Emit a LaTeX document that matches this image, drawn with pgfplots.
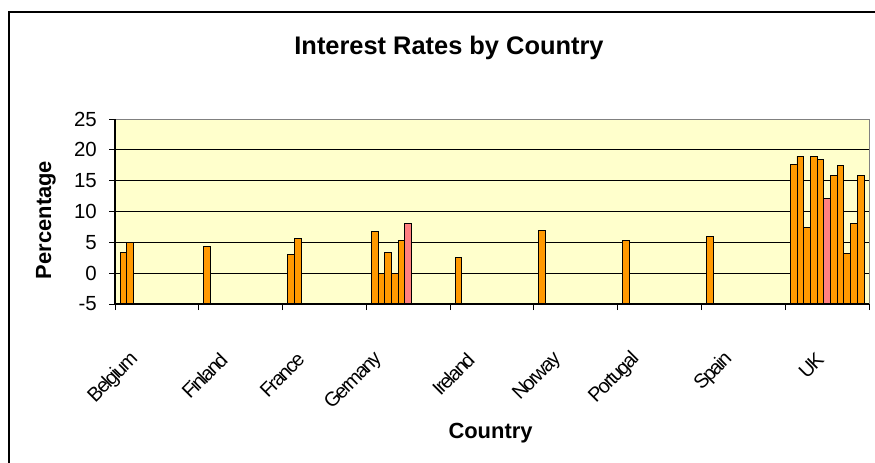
\documentclass[border=0pt]{standalone}
\usepackage{pgfplots}
\pgfplotsset{compat=1.18}
\usepackage{fontspec}
\setmainfont{Liberation Sans}
\newfontfamily\tightfont[LetterSpace=-9]{Liberation Sans}

\definecolor{barorange}{HTML}{FF9900}
\definecolor{barpink}{HTML}{FF8080}
\definecolor{plotbg}{HTML}{FFFFCC}
\definecolor{frameg}{HTML}{808080}

\begin{document}
\begin{tikzpicture}[x=1bp,y=1bp]
\useasboundingbox (0,0) rectangle (875,-463);
% chart area frame
\draw[line width=1.6bp] (9,-480) -- (9,-12) -- (890,-12);

\begin{axis}[
  at={(115bp,-304bp)}, anchor=south west,
  scale only axis, width=754bp, height=185bp,
  xmin=-0.5, xmax=8.5,
  ymin=-5, ymax=25,
  % bars rise from the bottom of the value axis (-5)
  y coord trafo/.code={\pgfmathparse{#1+5}},
  y coord inv trafo/.code={\pgfmathparse{#1-5}},
  ytick={-5,0,5,10,15,20,25},
  yticklabels={-5,0,5,10,15,20,25},
  xtick={-0.20,0.86,1.78,2.71,3.81,4.85,5.78,6.89,7.98},
  xticklabels={Belgium,Finland,France,Germany,Ireland,Norway,Portugal,Spain,UK},
  minor xtick={-0.5,0.5,1.5,2.5,3.5,4.5,5.5,6.5,7.5,8.5},
  xtick pos=left, ytick pos=left,
  tick align=outside,
  major tick length=6bp, minor tick length=6bp,
  major x tick style={draw=none},
  every tick/.style={black, line width=1bp},
  minor x tick style={black, line width=1bp},
  ymajorgrids,
  major grid style={black, line width=0.9bp},
  axis line style={draw=none},
  axis background/.style={fill=plotbg},
  yticklabel style={font=\fontsize{20.5}{22}\selectfont, inner sep=0pt, anchor=east, xshift=-12bp},
  xticklabel style={font=\tightfont\fontsize{20}{22}\selectfont, inner sep=0pt, xshift=-5bp, yshift=-46bp, rotate=45, anchor=east},
  ybar=0pt, bar width=0.08,
  extra description/.code={
    \draw[frameg, line width=1bp] (rel axis cs:0,1) -- (rel axis cs:1,1) -- (rel axis cs:1,0);
    \draw[black, line width=1.2bp] (rel axis cs:0,1) -- (rel axis cs:0,0) -- (rel axis cs:1,0);
  },
]
% series 1
\addplot[fill=barorange, draw=black, line width=0.9bp] coordinates
  {(0,3.4) (1,4.3) (2,3.1) (3,6.7) (4,2.5) (5,7.0) (6,5.3) (7,6.0) (8,17.7)};
% series 2
\addplot[fill=barorange, draw=black, line width=0.9bp] coordinates
  {(0,5.0) (2,5.6) (3,0) (8,19.0)};
% series 3
\addplot[fill=barorange, draw=black, line width=0.9bp] coordinates
  {(3,3.4) (8,7.4)};
% series 4
\addplot[fill=barorange, draw=black, line width=0.9bp] coordinates
  {(3,0) (8,19.0)};
% series 5
\addplot[fill=barorange, draw=black, line width=0.9bp] coordinates
  {(3,5.3) (8,18.4)};
% series 6
\addplot[fill=barpink, draw=black, line width=0.9bp] coordinates
  {(3,8.0) (8,12.1)};
% series 7
\addplot[fill=barorange, draw=black, line width=0.9bp] coordinates
  {(8,15.9)};
% series 8
\addplot[fill=barorange, draw=black, line width=0.9bp] coordinates
  {(8,17.4)};
% series 9
\addplot[fill=barorange, draw=black, line width=0.9bp] coordinates
  {(8,3.2)};
% series 10
\addplot[fill=barorange, draw=black, line width=0.9bp] coordinates
  {(8,8.0)};
% series 11
\addplot[fill=barorange, draw=black, line width=0.9bp] coordinates
  {(8,15.9)};
\end{axis}

\node[anchor=base, font=\bfseries\fontsize{25.5}{30}\selectfont] at (449,-55) {Interest Rates by Country};
\node[anchor=base, rotate=90, font=\bfseries\fontsize{22}{26}\selectfont] at (51,-220) {Percentage};
\node[anchor=base, font=\bfseries\fontsize{22}{26}\selectfont] at (490.5,-438) {Country};
\end{tikzpicture}
\end{document}
